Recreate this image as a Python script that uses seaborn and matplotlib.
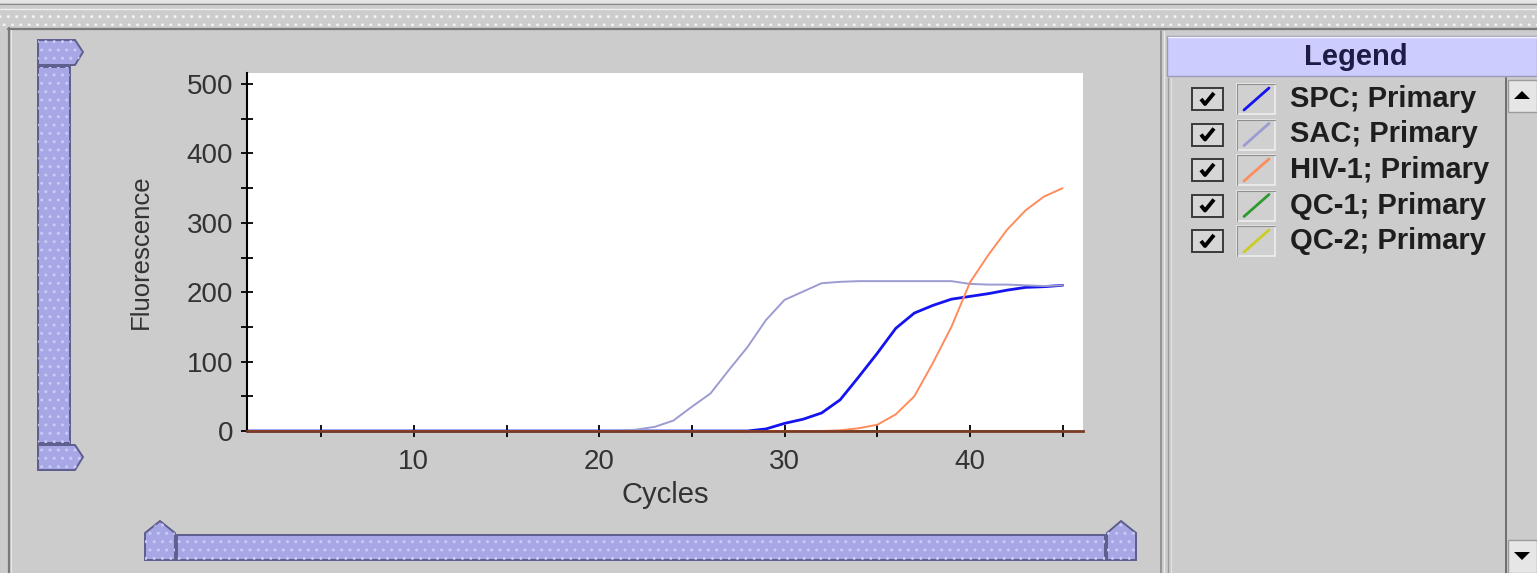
import matplotlib
matplotlib.use("Agg")
import matplotlib.pyplot as plt
import seaborn as sns
import pandas as pd
from matplotlib.patches import Rectangle, Polygon
from matplotlib.lines import Line2D

# Data (fluorescence per cycle)
cycles = list(range(1, 46))
targets = ['SPC', 'SAC', 'HIV-1', 'QC-1', 'QC-2']
spc = [0, 0, 0, 0, 0, 0, 0, 0, 0, 0, 0, 0, 0, 0, 0, 0, 0, 0, 0, 0,
       0, 0, 0, 0, 0, 0, 0, 0, 3, 11, 17, 26, 45, 78, 112, 148, 170, 181,
       190, 194, 198, 203, 207, 208, 210]
sac = [0, 0, 0, 0, 0, 0, 0, 0, 0, 0, 0, 0, 0, 0, 0, 0, 0, 0, 0, 0,
       0, 2, 6, 15, 35, 54, 88, 121, 160, 189, 201, 213, 215, 216, 216, 216, 216, 216,
       216, 212, 211, 211, 210, 209, 210]
hiv = [0, 0, 0, 0, 0, 0, 0, 0, 0, 0, 0, 0, 0, 0, 0, 0, 0, 0, 0, 0,
       0, 0, 0, 0, 0, 0, 0, 0, 0, 0, 0, 0, 1, 4, 9, 24, 50, 98,
       150, 214, 254, 290, 318, 338, 350]
qc1 = [0, 0, 0, 0, 0, 0, 0, 0, 0, 0, 0, 0, 0, 0, 0, 0, 0, 0, 0, 0,
       0, 0, 0, 0, 0, 0, 0, 0, 0, 0, 0, 0, 0, 0, 0, 0, 0, 0,
       0, 0, 0, 0, 0, 0, 0]
qc2 = [0, 0, 0, 0, 0, 0, 0, 0, 0, 0, 0, 0, 0, 0, 0, 0, 0, 0, 0, 0,
       0, 0, 0, 0, 0, 0, 0, 0, 0, 0, 0, 0, 0, 0, 0, 0, 0, 0,
       0, 0, 0, 0, 0, 0, 0]
x_ticks = [5, 10, 15, 20, 25, 30, 35, 40, 45]
x_labels = ['', '10', '', '20', '', '30', '', '40', '']
y_ticks = [0, 100, 200, 300, 400, 500]
y_minor = [50, 150, 250, 350, 450]

series = {'SPC': spc, 'SAC': sac, 'HIV-1': hiv, 'QC-1': qc1, 'QC-2': qc2}
df = pd.DataFrame({'Cycle': cycles, **series}).melt(id_vars='Cycle', var_name='Target',
                                                    value_name='Fluorescence')

colors = {'SPC': '#1414f0', 'SAC': '#9c9cd2', 'HIV-1': '#ff8c5c',
          'QC-1': '#2e9a2e', 'QC-2': '#cccc22'}
widths = {'SPC': 2.0, 'SAC': 1.4, 'HIV-1': 1.4, 'QC-1': 1.4, 'QC-2': 1.4}
draw_order = ['QC-2', 'QC-1', 'SPC', 'SAC', 'HIV-1']

sns.set_style('ticks')
plt.rcParams['font.family'] = ['Liberation Sans', 'DejaVu Sans']

GRAY = '#cccccc'
W, H = 1537, 573
fig = plt.figure(figsize=(W / 100, H / 100), dpi=100, facecolor=GRAY)

# background layer in pixel coordinates for the GUI chrome
bg = fig.add_axes([0, 0, 1, 1], zorder=0)
bg.set_xlim(0, W)
bg.set_ylim(H, 0)
bg.axis('off')

def hline(y, x0, x1, c, lw=1.0):
    bg.add_line(Line2D([x0, x1], [y, y], color=c, lw=lw))

def vline(x, y0, y1, c, lw=1.0):
    bg.add_line(Line2D([x, x], [y0, y1], color=c, lw=lw))

# top frame and dotted divider
bg.add_patch(Rectangle((0, 0), W, 3, color='#e4e4e4', lw=0))
hline(3.5, 0, W, '#8a8a8a', 0.8)
hline(9, 0, W, '#efefef', 1.0)
bg.add_patch(Rectangle((0, 12), W, 14, facecolor='#cdcdcd', edgecolor='#f2f2f2',
                       hatch='..', lw=0))
hline(28.5, 8, W, '#7a7a7a', 1.6)
vline(9, 28, H, '#7a7a7a', 1.6)
vline(11, 30, H, '#e8e8e8', 0.8)

# slider pieces
def slider(pts):
    bg.add_patch(Polygon(pts, closed=True, facecolor='#a7a7e6', edgecolor='#5e5e8e', lw=1.4))
    bg.add_patch(Polygon(pts, closed=True, facecolor='none', edgecolor='#cacaf6',
                         hatch='..', lw=0))

slider([(38, 40), (75, 40), (83, 52), (75, 65), (38, 65)])
slider([(38, 67), (70, 67), (70, 443), (38, 443)])
slider([(38, 445), (75, 445), (83, 457), (75, 470), (38, 470)])
slider([(145, 560), (145, 533), (160, 521), (175, 533), (175, 560)])
slider([(177, 535), (1105, 535), (1105, 560), (177, 560)])
slider([(1107, 560), (1107, 533), (1121, 521), (1136, 533), (1136, 560)])

# legend panel
vline(1161, 31, H, '#8a8a8a', 1.2)
vline(1164, 31, H, '#ececec', 0.8)
bg.add_patch(Rectangle((1167, 36), W - 1167, 40, facecolor='#ccccff',
                       edgecolor='#9a9ab8', lw=1.0))
hline(37, 1168, W, '#f4f4ff', 1.0)
bg.text(1356, 57, 'Legend', ha='center', va='center', fontsize=21,
        fontweight='bold', color='#1c1c44')
vline(1168, 78, H, '#9a9a9a', 1.0)
vline(1171, 78, H, '#e2e2e2', 0.8)
vline(1506, 78, H, '#6e6e6e', 1.4)
for y0, y1, tri in [(80, 112, [(1514, 99), (1530, 99), (1522, 91)]),
                    (540, H, [(1514, 552), (1530, 552), (1522, 560)])]:
    bg.add_patch(Rectangle((1508, y0), W - 1508, y1 - y0, facecolor='#e6e6e6',
                           edgecolor='#9c9c9c', lw=1.0))
    bg.add_patch(Polygon(tri, closed=True, color='black', lw=0))

for i, t in enumerate(targets):
    yc = 99 + 35.5 * i
    # checkbox with tick
    bg.add_patch(Rectangle((1192, yc - 11), 31, 22, facecolor='#d6d6d6',
                           edgecolor='#3a3a3a', lw=1.4))
    bg.add_line(Line2D([1201, 1205, 1214], [yc, yc + 5, yc - 6], color='black',
                       lw=2.8, solid_capstyle='butt'))
    # line swatch
    bg.add_patch(Rectangle((1237, yc - 15), 38, 30, facecolor='#d0d0d0',
                           edgecolor='#eeeeee', lw=1.2))
    bg.add_line(Line2D([1237, 1237, 1275], [yc + 15, yc - 15, yc - 15], color='#8e8e8e', lw=0.8))
    bg.add_line(Line2D([1244, 1269], [yc + 11, yc - 11], color=colors[t], lw=2.0))
    bg.text(1290, yc, f'{t}; Primary', ha='left', va='center', fontsize=21,
            fontweight='bold', color='#1e1e1e')

# plot area
ax = fig.add_axes([247 / W, 1 - 431 / H, 836 / W, 358 / H], zorder=2)
ax.set_facecolor('white')
for t in draw_order:
    sns.lineplot(data=df[df['Target'] == t], x='Cycle', y='Fluorescence',
                 color=colors[t], linewidth=widths[t], ax=ax, legend=False,
                 zorder=2, clip_on=False)

ax.set_xlim(1, 46.1)
ax.set_ylim(0, 516)
ax.set_xticks(x_ticks)
ax.set_xticklabels(x_labels)
ax.set_yticks(y_ticks)
ax.set_yticks(y_minor, minor=True)
ax.tick_params(which='both', direction='inout', length=9, width=1.3, color='black',
               labelcolor='#333333', labelsize=20, bottom=True, left=True)
ax.tick_params(axis='x', pad=8.5)
ax.tick_params(axis='y', pad=5.5)
for s in ['top', 'right']:
    ax.spines[s].set_visible(False)
ax.spines['left'].set_color('black')
ax.spines['left'].set_linewidth(1.5)
ax.spines['bottom'].set_color('#7a3a24')
ax.spines['bottom'].set_linewidth(2.0)

ax.set_xlabel('Cycles', fontsize=21, color='#333333')
ax.set_ylabel('Fluorescence', fontsize=18.5, color='#333333')
ax.xaxis.set_label_coords(0.5, -0.14)
ax.yaxis.set_label_coords(-0.112, 0.5)

fig.savefig('out.png', dpi=100, facecolor=GRAY)
